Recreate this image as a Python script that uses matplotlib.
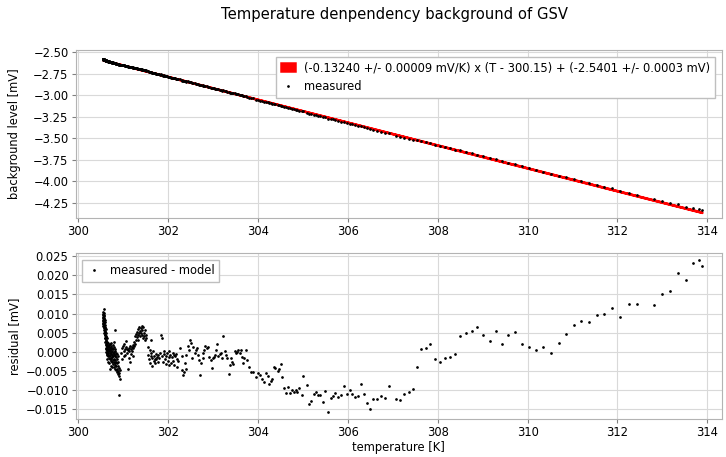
import numpy as np
import matplotlib
matplotlib.use("Agg")
import matplotlib.pyplot as plt
from matplotlib.ticker import MultipleLocator

# fit parameters (from the legend)
SLOPE, SLOPE_ERR = -0.13240, 0.00009
OFFSET, OFFSET_ERR = -2.5401, 0.0003
T_REF = 300.15

# --- residuals, by segment ---
# dense start-up strand
temp_start = [300.55, 300.55, 300.55, 300.55, 300.56, 300.56, 300.56, 300.56, 300.56, 300.56,
              300.57, 300.57, 300.57, 300.57, 300.57, 300.57, 300.57, 300.58, 300.58, 300.58,
              300.58, 300.58, 300.58, 300.59, 300.59, 300.59, 300.59, 300.59, 300.59, 300.60,
              300.60, 300.60, 300.60, 300.60, 300.60, 300.61, 300.61, 300.61, 300.61, 300.61,
              300.61, 300.62, 300.62, 300.62, 300.62, 300.62, 300.63, 300.63, 300.63, 300.63,
              300.63, 300.64, 300.64, 300.64, 300.64, 300.64]
resid_start = [0.0095, 0.0088, 0.0080, 0.0072, 0.0105, 0.0098, 0.0090, 0.0083, 0.0076, 0.0068,
               0.0113, 0.0101, 0.0093, 0.0086, 0.0078, 0.0070, 0.0062, 0.0096, 0.0088, 0.0074,
               0.0066, 0.0058, 0.0048, 0.0082, 0.0071, 0.0061, 0.0052, 0.0043, 0.0035, 0.0077,
               0.0066, 0.0054, 0.0045, 0.0036, 0.0026, 0.0060, 0.0048, 0.0038, 0.0028, 0.0018,
               0.0008, 0.0042, 0.0031, 0.0020, 0.0010, 0.0000, 0.0036, 0.0024, 0.0014, 0.0004,
               -0.0008, 0.0026, 0.0015, 0.0005, -0.0005, -0.0020]

# descending band 300.65 - 300.92
temp_drop = [300.65, 300.65, 300.65, 300.66, 300.66, 300.66, 300.67, 300.67, 300.67, 300.67,
             300.68, 300.68, 300.68, 300.69, 300.69, 300.69, 300.69, 300.70, 300.70, 300.70,
             300.71, 300.71, 300.71, 300.71, 300.72, 300.72, 300.72, 300.73, 300.73, 300.73,
             300.74, 300.74, 300.74, 300.74, 300.75, 300.75, 300.75, 300.76, 300.76, 300.76,
             300.77, 300.77, 300.77, 300.78, 300.78, 300.78, 300.79, 300.79, 300.79, 300.80,
             300.80, 300.80, 300.80, 300.81, 300.81, 300.81, 300.82, 300.82, 300.82, 300.83,
             300.83, 300.83, 300.84, 300.84, 300.84, 300.85, 300.85, 300.86, 300.86, 300.86,
             300.87, 300.87, 300.88, 300.88, 300.88, 300.89, 300.89, 300.90, 300.90, 300.91,
             300.91, 300.92, 300.92]
resid_drop = [0.0022, 0.0010, -0.0002, 0.0016, 0.0003, -0.0012, 0.0022, 0.0008, -0.0004, -0.0028,
              0.0013, 0.0001, -0.0016, 0.0018, 0.0005, -0.0008, -0.0030, 0.0011, -0.0002, -0.0018,
              0.0020, 0.0004, -0.0010, -0.0045, 0.0009, -0.0005, -0.0024, 0.0014, -0.0001, -0.0015,
              0.0023, 0.0006, -0.0020, -0.0036, 0.0010, -0.0008, -0.0028, 0.0001, -0.0014, -0.0040,
              0.0018, -0.0004, -0.0022, 0.0006, -0.0012, -0.0032, 0.0012, -0.0006, -0.0026, 0.0025,
              -0.0001, -0.0018, -0.0040, 0.0008, -0.0012, -0.0030, 0.0002, -0.0022, -0.0045, 0.0057,
              -0.0008, -0.0034, -0.0002, -0.0026, -0.0048, -0.0014, -0.0038, -0.0006, -0.0030, -0.0054,
              -0.0020, -0.0044, -0.0012, -0.0036, -0.0058, -0.0028, -0.0050, -0.0042, -0.0063, -0.0113,
              -0.0055, -0.0070, -0.0048]

# second bump 300.95 - 301.52
temp_bump = [300.95, 300.97, 300.98, 301.00, 301.01, 301.02, 301.03, 301.04, 301.05, 301.06,
             301.07, 301.08, 301.09, 301.10, 301.11, 301.12, 301.13, 301.14, 301.15, 301.16,
             301.17, 301.18, 301.19, 301.20, 301.21, 301.22, 301.23, 301.24, 301.25, 301.26,
             301.27, 301.28, 301.29, 301.30, 301.31, 301.32, 301.33, 301.34, 301.35, 301.36,
             301.37, 301.38, 301.39, 301.40, 301.41, 301.42, 301.43, 301.44, 301.45, 301.46,
             301.47, 301.48, 301.49, 301.50, 301.52]
resid_bump = [-0.0002, 0.0010, -0.0020, 0.0015, 0.0002, -0.0012, 0.0020, 0.0006, -0.0008, 0.0012,
              0.0027, -0.0002, 0.0008, -0.0045, 0.0004, -0.0016, 0.0010, 0.0002, -0.0026, 0.0015,
              0.0006, -0.0006, 0.0012, 0.0003, 0.0018, 0.0010, -0.0010, 0.0025, 0.0014, 0.0040,
              0.0020, 0.0032, 0.0047, 0.0038, 0.0052, 0.0030, 0.0044, 0.0060, 0.0048, 0.0066,
              0.0055, 0.0040, 0.0062, 0.0050, 0.0068, 0.0045, 0.0058, 0.0035, 0.0064, 0.0050,
              0.0042, 0.0057, 0.0030, 0.0045, 0.0036]

# 301.55 - 302.03
temp_mid1 = [301.55, 301.56, 301.58, 301.59, 301.60, 301.61, 301.62, 301.63, 301.64, 301.65,
             301.66, 301.68, 301.69, 301.70, 301.71, 301.73, 301.74, 301.75, 301.77, 301.78,
             301.80, 301.82, 301.84, 301.86, 301.87, 301.89, 301.90, 301.92, 301.93, 301.95,
             301.96, 301.98, 301.99, 302.01, 302.02, 302.03]
resid_mid1 = [-0.0008, 0.0012, -0.0020, 0.0004, -0.0030, -0.0012, 0.0032, -0.0004, -0.0038, -0.0016,
              0.0002, -0.0024, -0.0010, -0.0030, -0.0018, -0.0006, -0.0020, -0.0014, -0.0028, -0.0008,
              -0.0016, -0.0002, 0.0043, 0.0035, -0.0012, -0.0026, -0.0006, 0.0002, -0.0018, -0.0032,
              -0.0010, -0.0004, -0.0024, -0.0014, -0.0035, 0.0001]

# 302.05 - 303.88
temp_mid2 = [302.05, 302.07, 302.08, 302.10, 302.11, 302.13, 302.14, 302.15, 302.17, 302.19,
             302.20, 302.23, 302.26, 302.30, 302.32, 302.34, 302.35, 302.37, 302.40, 302.41,
             302.44, 302.46, 302.48, 302.51, 302.54, 302.56, 302.60, 302.62, 302.65, 302.67,
             302.69, 302.72, 302.74, 302.77, 302.78, 302.81, 302.83, 302.86, 302.89, 302.92,
             302.95, 302.97, 302.99, 303.02, 303.04, 303.06, 303.09, 303.12, 303.15, 303.18,
             303.21, 303.23, 303.26, 303.29, 303.32, 303.35, 303.38, 303.40, 303.43, 303.45,
             303.48, 303.51, 303.53, 303.56, 303.60, 303.62, 303.64, 303.67, 303.69, 303.73,
             303.76, 303.81, 303.84, 303.88]
resid_mid2 = [-0.0009, -0.0030, -0.0013, -0.0004, -0.0023, -0.0009, -0.0035, -0.0011, -0.0006, -0.0039,
              -0.0020, -0.0023, 0.0011, -0.0011, -0.0048, -0.0061, -0.0052, -0.0030, -0.0044, -0.0009,
              0.0015, 0.0004, 0.0031, 0.0024, -0.0015, 0.0013, -0.0004, 0.0004, 0.0009, -0.0009,
              -0.0022, -0.0061, -0.0030, -0.0004, -0.0017, 0.0004, 0.0015, 0.0009, 0.0013, -0.0013,
              -0.0022, -0.0042, -0.0017, -0.0013, -0.0009, 0.0004, 0.0020, -0.0011, -0.0006, -0.0003,
              -0.0015, 0.0041, 0.0002, -0.0009, -0.0017, -0.0059, -0.0035, -0.0017, -0.0026, -0.0032,
              0.0002, -0.0004, 0.0000, 0.0004, -0.0004, 0.0004, -0.0013, -0.0029, -0.0017, 0.0004,
              -0.0022, -0.0039, -0.0052, -0.0052]

# 303.96 - 306.29
temp_dip = [303.96, 304.01, 304.05, 304.10, 304.13, 304.19, 304.22, 304.25, 304.29, 304.31,
            304.35, 304.39, 304.44, 304.47, 304.51, 304.54, 304.58, 304.62, 304.66, 304.71,
            304.75, 304.80, 304.84, 304.88, 304.92, 304.97, 305.01, 305.10, 305.14, 305.19,
            305.24, 305.29, 305.33, 305.39, 305.45, 305.50, 305.56, 305.62, 305.67, 305.72,
            305.78, 305.85, 305.91, 305.98, 306.04, 306.10, 306.16, 306.22, 306.29]
resid_dip = [-0.0066, -0.0055, -0.0060, -0.0070, -0.0078, -0.0056, -0.0063, -0.0084, -0.0077, -0.0071,
             -0.0041, -0.0043, -0.0050, -0.0046, -0.0032, -0.0065, -0.0096, -0.0109, -0.0093, -0.0108,
             -0.0100, -0.0105, -0.0100, -0.0105, -0.0095, -0.0114, -0.0063, -0.0088, -0.0137, -0.0130,
             -0.0110, -0.0106, -0.0114, -0.0112, -0.0132, -0.0103, -0.0157, -0.0121, -0.0115, -0.0109,
             -0.0119, -0.0113, -0.0090, -0.0110, -0.0100, -0.0110, -0.0117, -0.0116, -0.0084]

# sparse heating tail 306.36 - 313.88
temp_tail = [306.36, 306.43, 306.50, 306.56, 306.65, 306.74, 306.82, 306.91, 307.08, 307.17,
             307.26, 307.36, 307.46, 307.55, 307.64, 307.74, 307.84, 307.95, 308.05, 308.16,
             308.27, 308.39, 308.50, 308.63, 308.76, 308.88, 309.02, 309.16, 309.29, 309.43,
             309.57, 309.72, 309.87, 310.03, 310.18, 310.35, 310.52, 310.69, 310.86, 311.03,
             311.20, 311.37, 311.54, 311.71, 311.88, 312.06, 312.25, 312.44, 312.81, 312.99,
             313.17, 313.34, 313.52, 313.68, 313.81, 313.88]
resid_tail = [-0.0111, -0.0133, -0.0150, -0.0124, -0.0124, -0.0115, -0.0120, -0.0090, -0.0124, -0.0127,
              -0.0110, -0.0106, -0.0097, -0.0041, 0.0008, 0.0009, 0.0021, -0.0018, -0.0028, -0.0017,
              -0.0014, -0.0006, 0.0040, 0.0049, 0.0054, 0.0064, 0.0043, 0.0029, 0.0055, 0.0021,
              0.0044, 0.0052, 0.0019, 0.0013, 0.0004, 0.0012, -0.0003, 0.0023, 0.0047, 0.0070,
              0.0080, 0.0077, 0.0096, 0.0098, 0.0114, 0.0092, 0.0126, 0.0124, 0.0121, 0.0150,
              0.0160, 0.0206, 0.0187, 0.0233, 0.0239, 0.0224]

temperature = np.array(temp_start + temp_drop + temp_bump + temp_mid1 + temp_mid2 + temp_dip + temp_tail)
residual = np.array(resid_start + resid_drop + resid_bump + resid_mid1 + resid_mid2 + resid_dip + resid_tail)


def model(t, slope=SLOPE, offset=OFFSET):
    return slope * (t - T_REF) + offset


measured = model(temperature) + residual

plt.rcParams["font.size"] = 8.3
plt.rcParams["font.family"] = "DejaVu Sans"

fig = plt.figure(figsize=(7.26, 4.57), dpi=100)
ax_top = fig.add_axes([0.104, 0.523, 0.890, 0.368])
ax_bot = fig.add_axes([0.104, 0.083, 0.890, 0.364])

fit_label = (f"({SLOPE:.5f} +/- {SLOPE_ERR:.5f} mV/K) x (T - {T_REF:.2f}) + "
             f"({OFFSET:.4f} +/- {OFFSET_ERR:.4f} mV)")
t_line = np.sort(temperature)
lo = model(t_line, SLOPE - SLOPE_ERR, OFFSET - OFFSET_ERR)
hi = model(t_line, SLOPE + SLOPE_ERR, OFFSET + OFFSET_ERR)
ax_top.fill_between(t_line, lo, hi, color="red", edgecolor="red", lw=1.8,
                    label=fit_label, zorder=3)
ax_top.plot(temperature, measured, ".", color="black", ms=1.9, label="measured", zorder=4)
ax_top.set_ylabel("background level [mV]")
ax_top.yaxis.set_major_locator(MultipleLocator(0.25))
ax_top.legend(loc="upper right", fontsize=8.3, framealpha=1.0, fancybox=False,
              edgecolor="0.75", handlelength=1.2, borderaxespad=0.6)

ax_bot.plot(temperature, residual, ".", color="black", ms=1.9, label="measured - model")
ax_bot.set_ylabel("residual [mV]")
ax_bot.set_xlabel("temperature [K]", labelpad=1.5)
ax_bot.yaxis.set_major_locator(MultipleLocator(0.005))
ax_bot.legend(loc="upper left", fontsize=8.3, framealpha=1.0, fancybox=False,
              edgecolor="0.75", handlelength=1.2, borderaxespad=0.6)

for ax in (ax_top, ax_bot):
    ax.set_xlim(299.94, 314.32)
    ax.xaxis.set_major_locator(MultipleLocator(2))
    ax.grid(True, color="0.85", lw=0.8)
    ax.set_axisbelow(True)
    for sp in ax.spines.values():
        sp.set_color("0.7")
    ax.tick_params(color="0.5", length=3, pad=2)
    ax.yaxis.set_label_coords(-0.084, 0.5)

ax_top.set_ylim(-4.424, -2.475)
ax_bot.set_ylim(-0.0176, 0.0259)

fig.suptitle("Temperature denpendency background of GSV", x=0.543, y=0.985,
             va="top", fontsize=10.6)

fig.savefig("out.png", dpi=100)
plt.close(fig)
